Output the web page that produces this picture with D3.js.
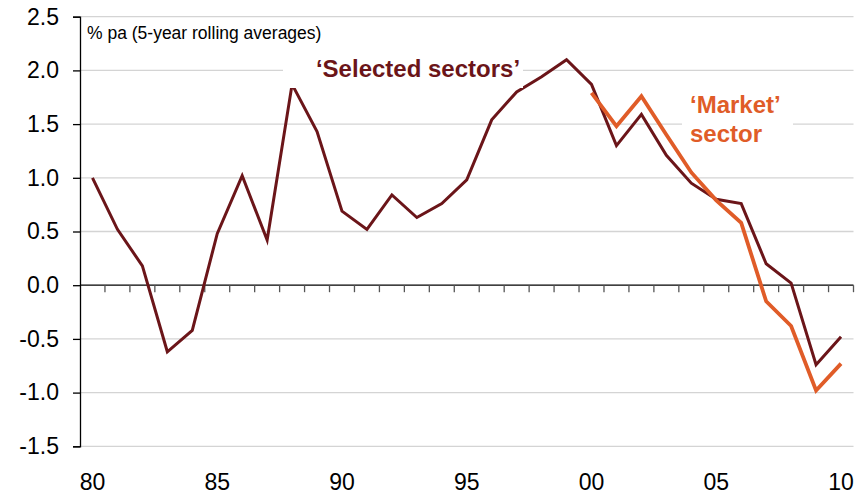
<!DOCTYPE html>
<html>
<head>
<meta charset="utf-8">
<script src="https://cdn.jsdelivr.net/npm/d3@7"></script>
<style>
  body { margin: 0; background: #fff; }
  text { font-family: "Liberation Sans", Arial, sans-serif; }
</style>
</head>
<body>
<svg id="chart" width="857" height="495"></svg>
<script>
const svg = d3.select("#chart");

// years 1980..2010
const years = d3.range(1980, 2011);
const selectedSectors = [1.00, 0.52, 0.18, -0.62, -0.42, 0.48, 1.02, 0.42, 1.87, 1.43,
  0.69, 0.52, 0.84, 0.63, 0.76, 0.98, 1.54, 1.80, 1.94, 2.10,
  1.87, 1.30, 1.59, 1.21, 0.95, 0.80, 0.76, 0.20, 0.02, -0.74, -0.48];
const marketYears = d3.range(2000, 2011);
const marketSector = [1.79, 1.48, 1.76, 1.40, 1.05, 0.79, 0.58, -0.15, -0.38, -0.98, -0.73];
const yTicks = [-1.5, -1.0, -0.5, 0.0, 0.5, 1.0, 1.5, 2.0, 2.5];
const xLabelYears = [1980, 1985, 1990, 1995, 2000, 2005, 2010];

const maroon = "#6b1519";
const orange = "#e05c28";

const x = d3.scaleBand().domain(years).range([80, 853.5]);
const y = d3.scaleLinear().domain([-1.5, 2.5]).range([446.3, 16.7]);
const cx = d => x(d) + x.bandwidth() / 2;

// gridlines
svg.append("g").selectAll("line")
  .data(yTicks.filter(d => d !== 0))
  .join("line")
  .attr("x1", 80).attr("x2", 853.5)
  .attr("y1", d => y(d)).attr("y2", d => y(d))
  .attr("stroke", "#d4d4d4").attr("stroke-width", 1.3);

// y axis
const yAxis = svg.append("g")
  .attr("transform", "translate(80,0)")
  .call(d3.axisLeft(y).tickValues(yTicks).tickSize(7).tickPadding(14)
    .tickFormat(d => d.toFixed(1)));
yAxis.select(".domain").attr("stroke", "#000").attr("stroke-width", 1.3);
yAxis.selectAll(".tick line").attr("stroke", "#000").attr("stroke-width", 1.3);
yAxis.selectAll("text").attr("font-size", 23).attr("fill", "#000");

// x axis at zero
const xAxis = svg.append("g")
  .attr("transform", `translate(0,${y(0)})`);
xAxis.append("line")
  .attr("x1", 80).attr("x2", 853.5)
  .attr("stroke", "#000").attr("stroke-width", 1.3);
xAxis.selectAll(".xtick")
  .data(years.slice(1).map(d => x(d)).concat([853.5]))
  .join("line")
  .attr("class", "xtick")
  .attr("x1", d => d).attr("x2", d => d)
  .attr("y1", 0).attr("y2", 7)
  .attr("stroke", "#555").attr("stroke-width", 1.3);

svg.append("g").selectAll("text")
  .data(xLabelYears)
  .join("text")
  .attr("x", d => cx(d))
  .attr("y", 490)
  .attr("text-anchor", "middle")
  .attr("font-size", 23)
  .text(d => String(d).slice(2));

// unit label
svg.append("text")
  .attr("x", 87).attr("y", 39)
  .attr("font-size", 17.5)
  .text("% pa (5-year rolling averages)");

const line = d3.line().x(d => cx(d[0])).y(d => y(d[1]));

svg.append("path")
  .datum(years.map((d, i) => [d, selectedSectors[i]]))
  .attr("d", line)
  .attr("fill", "none")
  .attr("stroke", maroon)
  .attr("stroke-width", 3);

svg.append("path")
  .datum(marketYears.map((d, i) => [d, marketSector[i]]))
  .attr("d", line)
  .attr("fill", "none")
  .attr("stroke", orange)
  .attr("stroke-width", 3.8);

// label boxes
svg.append("rect")
  .attr("x", 283).attr("y", 50).attr("width", 240).attr("height", 38)
  .attr("fill", "#fff");
svg.append("text")
  .attr("x", 418).attr("y", 77)
  .attr("text-anchor", "middle")
  .attr("font-size", 24).attr("font-weight", "bold")
  .attr("fill", maroon)
  .text("\u2018Selected sectors\u2019");

svg.append("rect")
  .attr("x", 682).attr("y", 92).attr("width", 111).attr("height", 58)
  .attr("fill", "#fff");
const mk = svg.append("text")
  .attr("font-size", 24).attr("font-weight", "bold")
  .attr("fill", orange);
mk.append("tspan").attr("x", 690).attr("y", 113).text("\u2018Market\u2019");
mk.append("tspan").attr("x", 690).attr("y", 141.5).text("sector");
</script>
</body>
</html>
